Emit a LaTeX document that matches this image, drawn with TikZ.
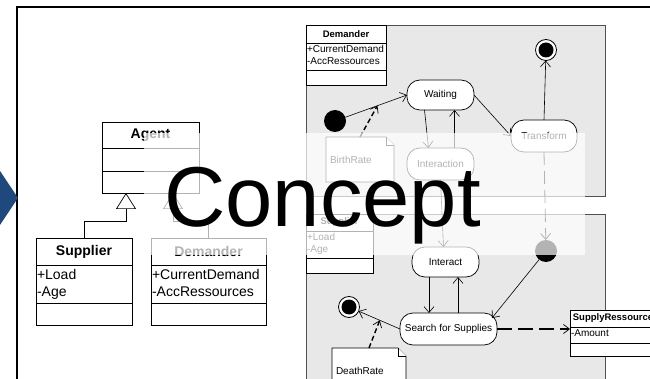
\documentclass[tikz,border=0pt]{standalone}
\usepackage{fontspec}
\setmainfont{Liberation Sans}
\usetikzlibrary{arrows.meta}
\definecolor{panelgray}{HTML}{E8E8E8}
\definecolor{paneledge}{HTML}{505050}
\definecolor{slideblue}{HTML}{1F497D}
\newcommand\sz[2]{\fontsize{#1}{#2}\selectfont}

% UML class box: name, left x, top y, width, header h, attribute h, method h, title, attributes
\newcommand\umlclass[9]{%
  \node[clsbox, anchor=north west, minimum width=#4pt, minimum height={(#5+#6+#7)*1pt}] (#1) at (#2,#3) {};
  \draw[clsline] ([yshift=-#5pt]#1.north west) -- ([yshift=-#5pt]#1.north east);
  \draw[clsline] ([yshift={-(#5+#6)*1pt}]#1.north west) -- ([yshift={-(#5+#6)*1pt}]#1.north east);
  \node[clstitle] (#1-title) at ([yshift={-#5*0.5pt}]#1.north) {#8};
  \node[clsattr, anchor=north west] (#1-attr) at ([yshift=-#5pt]#1.north west) {#9};
}

% UML note with a folded corner: name, left x, top y, width, height, text
\newcommand\umlnote[6]{%
  \node[inner sep=0pt, anchor=north west, minimum width=#4pt, minimum height=#5pt] (#1) at (#2,#3) {};
  \filldraw[notedraw] (#1.north west) -- ([xshift=-8pt]#1.north east) -- ([yshift=-8pt]#1.north east)
     -- (#1.south east) -- (#1.south west) -- cycle;
  \draw[notedraw] ([xshift=-8pt]#1.north east) |- ([yshift=-8pt]#1.north east);
  \node[notetext, anchor=west] (#1-text) at ([xshift=4pt]#1.west) {#6};
}

\begin{document}
\begin{tikzpicture}[x=1pt, y=-1pt,
  every node/.style={outer sep=0pt},
  clsbox/.style={draw=black, fill=white, line width=0.8pt, inner sep=0pt},
  clsline/.style={draw=black, line width=0.8pt},
  clstitle/.style={font=\bfseries},
  clsattr/.style={align=left},
  notedraw/.style={draw=black, fill=white, line width=0.7pt},
  notetext/.style={font=\sz{10}{12}, inner sep=0pt},
  panel/.style={fill=panelgray, draw=paneledge, line width=0.8pt},
  state/.style={draw=black, fill=white, line width=0.7pt, rounded corners=13pt,
                font=\sz{10}{12}, inner sep=0pt},
  startdot/.style={circle, fill=black, minimum size=22pt, inner sep=0pt},
  endring/.style={circle, draw=black, fill=white, line width=0.8pt, minimum size=21pt, inner sep=0pt},
  enddot/.style={circle, fill=black, minimum size=15pt, inner sep=0pt},
  tr/.style={line width=0.6pt, -{Straight Barb[length=6pt,width=10pt]}},
  gen/.style={line width=0.7pt, -{Triangle[length=16pt,width=20pt,fill=white]}},
  dep/.style={line width=1.4pt, dash pattern=on 5pt off 3pt, -{Straight Barb[length=6pt,width=9pt,line width=0.7pt]}},
  deplong/.style={line width=1.6pt, dash pattern=on 15pt off 6pt, -{Straight Barb[length=6pt,width=9pt,line width=0.7pt]}},
  flowdash/.style={line width=0.8pt, dash pattern=on 13pt off 6pt, -{Straight Barb[length=6pt,width=10pt]}}
]
\useasboundingbox (0,0) rectangle (650,379);
\clip (0,0) rectangle (650,379);

% slide frame and marker
\draw[line width=2.2pt, line join=miter] (17,382) -- (17,7) -- (652,7);
\fill[slideblue] (18,198) -- (-10,156) -- (-38,198) -- (-10,240) -- cycle;

% class hierarchy
\begin{scope}[clstitle/.style={font=\bfseries\sz{14}{17}},
              clsattr/.style={font=\sz{14}{17}, align=left, inner xsep=1pt, inner ysep=4pt}]
  \umlclass{agent}{102}{122}{97}{26}{23}{22}{Agent}{}
  \umlclass{supL}{36}{238}{96}{27}{38}{22}{Supplier}{+Load\\-Age}
  \umlclass{demL}{151}{238}{115}{27}{38}{22}{Demander}{+CurrentDemand\\-AccRessources}
\end{scope}
\draw[gen] (supL.north) -- ++(0,-17) -| ([xshift=24pt]agent.south west);
\draw[gen] (demL.north) -- ++(0,-17) -| ([xshift=71pt]agent.south west);

% behaviour panels
\filldraw[panel] (306,25) rectangle (605,196);
\filldraw[panel] (306,214) rectangle (605,395);

\begin{scope}[clstitle/.style={font=\bfseries\sz{9.5}{11}},
              clsattr/.style={font=\sz{10}{11.5}, align=left, inner xsep=1pt, inner ysep=2.5pt}]
  \umlclass{demR}{306}{25}{80}{18}{27}{15}{Demander}{+CurrentDemand\\-AccRessources}
  \umlclass{supR}{306}{214}{67}{17}{27}{15}{Supplier}{+Load\\-Age}
  \umlclass{res}{570}{310}{86}{17}{16}{13}{SupplyRessource}{-Amount}
\end{scope}

% demander states
\node[state, minimum width=67pt, minimum height=30pt] (waiting) at (440.5,95) {Waiting};
\node[state, minimum width=67pt, minimum height=32pt] (interaction) at (440.5,164) {Interaction};
\node[state, minimum width=66pt, minimum height=32pt] (transform) at (544,136) {Transform};
\node[startdot] (init) at (335,121) {};
\node[endring] (fin1) at (546,50) {};
\node[enddot] (fin1-dot) at (546,50) {};
\umlnote{birth}{326}{137}{68}{45}{BirthRate}

\draw[tr] (init) -- (waiting.west) coordinate[pos=0.52] (birthmid);
\draw[dep] (birth.north) -- (birthmid);
\draw[tr] ([xshift=-16pt]waiting.south) -- ([xshift=-12pt]interaction.north);
\draw[tr] ([xshift=14pt]interaction.north) -- ([xshift=14pt]waiting.south);
\draw[tr] (waiting.east) -- (transform.west);
\draw[tr] (transform.north) -- (fin1);

% supplier states
\node[state, minimum width=67pt, minimum height=30pt] (interact) at (445.5,262) {Interact};
\node[state, minimum width=97pt, minimum height=32pt] (search) at (448.5,329) {Search for Supplies};
\node[startdot] (junc) at (546,251) {};
\node[endring] (fin2) at (349,307) {};
\node[enddot] (fin2-dot) at (349,307) {};
\umlnote{death}{332}{348}{74}{46}{DeathRate}

\draw[flowdash] (transform.south) -- (junc);
\draw[tr] (interaction.south) -- ([xshift=-2pt]interact.north);
\draw[tr] ([xshift=-16.5pt]interact.south) -- ([xshift=-19.5pt]search.north);
\draw[tr] ([xshift=9.5pt]search.north) -- ([xshift=12.5pt]interact.south);
\draw[tr] (junc) -- ([xshift=-5pt,yshift=-5pt]search.north east);
\draw[tr] (search.west) -- (fin2) coordinate[pos=0.49] (deathmid);
\draw[dep] (death.north) -- (deathmid);
\draw[deplong] (search.east) -- (search.east -| res.west);

% translucent title band
\fill[white, opacity=0.7] (144,133) rectangle (585,255);
\node[font=\sz{85}{90}, inner sep=0pt, anchor=base] (concept) at (322.5,227) {Concept};
\end{tikzpicture}
\end{document}
